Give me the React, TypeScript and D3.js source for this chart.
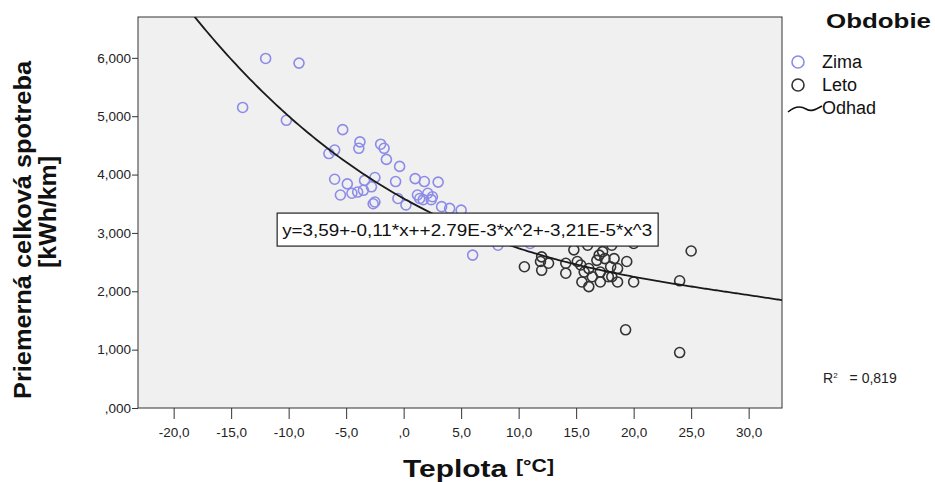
import React, { useRef, useEffect } from "react";
import * as d3 from "d3";

// Zima (winter) observations: temperature [°C] and consumption [kWh/km]
const zimaTemp = [
  -14.0, -12.0, -9.1, -10.2, -5.3, -6.5, -6.0, -3.8, -3.9, -2.0, -1.7, -1.5, -0.35,
  -6.0, -4.9, -3.4, -2.5, -2.8, -3.5, -4.0, -4.5, -5.5, -0.7, 1.0, 1.8, 3.0,
  -2.5, -2.65, -0.5, 0.2, 1.4, 2.1, 2.5, 1.2, 2.4, 1.7, 3.3, 4.0, 5.0,
  -0.2, 3.0, 6.0, 8.2, 11.0,
];
const zimaSpotreba = [
  5.15, 5.99, 5.91, 4.93, 4.77, 4.36, 4.42, 4.56, 4.45, 4.52, 4.45, 4.26, 4.14,
  3.92, 3.84, 3.9, 3.95, 3.79, 3.73, 3.7, 3.68, 3.65, 3.88, 3.93, 3.88, 3.87,
  3.53, 3.5, 3.59, 3.48, 3.59, 3.68, 3.62, 3.65, 3.57, 3.57, 3.45, 3.42, 3.39,
  2.88, 2.88, 2.62, 2.79, 2.82,
];

// Leto (summer) observations
const letoTemp = [
  10.5, 12.0, 12.0, 12.6, 11.9, 14.1, 14.1, 14.8, 15.1, 16.0, 15.4, 15.5, 16.1,
  15.7, 16.1, 16.4, 17.0, 17.3, 17.5, 16.8, 17.1, 18.0, 18.3, 18.6, 17.8, 17.1,
  18.1, 19.4, 20.0, 20.0, 18.6, 21.0, 25.0, 24.0, 19.3, 24.0, 18.1,
];
const letoSpotreba = [
  2.42, 2.59, 2.36, 2.48, 2.51, 2.48, 2.31, 2.71, 2.51, 2.79, 2.45, 2.16, 2.08,
  2.33, 2.39, 2.25, 2.62, 2.68, 2.56, 2.53, 2.33, 2.42, 2.56, 2.39, 2.25, 2.16,
  2.79, 2.51, 2.82, 2.16, 2.16, 3.0, 2.69, 2.18, 1.34, 0.95, 2.25,
];

// cubic fit coefficients as printed in the chart
const fitCoef = [3.59, -0.11, 2.79e-3, -3.21e-5];
const fitLabel = "y=3,59+-0,11*x++2.79E-3*x^2+-3,21E-5*x^3";
const rSquared = "0,819";

const xTicks = [-20, -15, -10, -5, 0, 5, 10, 15, 20, 25, 30];
const xTickLabels = ["-20,0", "-15,0", "-10,0", "-5,0", ",0", "5,0", "10,0", "15,0", "20,0", "25,0", "30,0"];
const yTicks = [0, 1, 2, 3, 4, 5, 6];
const yTickLabels = [",000", "1,000", "2,000", "3,000", "4,000", "5,000", "6,000"];

const legendLabels = ["Zima", "Leto", "Odhad"];

const width = 935;
const height = 482;
const margin = { top: 17, right: 153, bottom: 74, left: 138 };
const font = "'Liberation Sans', Arial, sans-serif";
const zimaColor = "#8c8ce8";
const letoColor = "#333333";

const App = () => {
  const svgRef = useRef<SVGSVGElement | null>(null);

  useEffect(() => {
    const svg = d3.select(svgRef.current);
    svg.selectAll("*").remove();

    const x = d3
      .scaleLinear()
      .domain([-23.1, 32.9])
      .range([margin.left, width - margin.right]);
    const y = d3
      .scaleLinear()
      .domain([0, 6.7])
      .range([height - margin.bottom, margin.top]);

    const plotW = width - margin.right - margin.left;
    const plotH = height - margin.bottom - margin.top;

    svg
      .append("defs")
      .append("clipPath")
      .attr("id", "plotClip")
      .append("rect")
      .attr("x", margin.left)
      .attr("y", margin.top)
      .attr("width", plotW)
      .attr("height", plotH);

    // plot background
    svg
      .append("rect")
      .attr("x", margin.left)
      .attr("y", margin.top)
      .attr("width", plotW)
      .attr("height", plotH)
      .attr("fill", "#f0f0f0")
      .attr("stroke", "#333")
      .attr("stroke-width", 1);

    // X axis
    const xAxis = d3
      .axisBottom(x)
      .tickValues(xTicks)
      .tickSize(11)
      .tickPadding(8)
      .tickFormat((d, i) => xTickLabels[i]);
    const gx = svg
      .append("g")
      .attr("transform", `translate(0,${height - margin.bottom})`)
      .call(xAxis);
    gx.select(".domain").remove();
    gx.selectAll(".tick line").attr("stroke", "#333");
    gx.selectAll(".tick text")
      .attr("font-family", font)
      .attr("font-size", 13.5)
      .attr("fill", "#222");

    // Y axis
    const yAxis = d3
      .axisLeft(y)
      .tickValues(yTicks)
      .tickSize(6)
      .tickPadding(1)
      .tickFormat((d, i) => yTickLabels[i]);
    const gy = svg
      .append("g")
      .attr("transform", `translate(${margin.left},0)`)
      .call(yAxis);
    gy.select(".domain").remove();
    gy.selectAll(".tick line").attr("stroke", "#333");
    gy.selectAll(".tick text")
      .attr("font-family", font)
      .attr("font-size", 13.5)
      .attr("fill", "#222");

    const plot = svg.append("g").attr("clip-path", "url(#plotClip)");

    // points
    plot
      .selectAll(".zima")
      .data(zimaTemp.map((t, i) => [t, zimaSpotreba[i]]))
      .enter()
      .append("circle")
      .attr("class", "zima")
      .attr("cx", (d) => x(d[0]))
      .attr("cy", (d) => y(d[1]))
      .attr("r", 5)
      .attr("fill", "none")
      .attr("stroke", zimaColor)
      .attr("stroke-width", 1.6);

    plot
      .selectAll(".leto")
      .data(letoTemp.map((t, i) => [t, letoSpotreba[i]]))
      .enter()
      .append("circle")
      .attr("class", "leto")
      .attr("cx", (d) => x(d[0]))
      .attr("cy", (d) => y(d[1]))
      .attr("r", 5)
      .attr("fill", "none")
      .attr("stroke", letoColor)
      .attr("stroke-width", 1.6);

    // fit curve
    const fit = (t: number) =>
      fitCoef[0] + fitCoef[1] * t + fitCoef[2] * t * t + fitCoef[3] * t * t * t;
    const curveT = d3.range(-23.1, 32.95, 0.25);
    const line = d3
      .line<number>()
      .x((t) => x(t))
      .y((t) => y(fit(t)))
      .curve(d3.curveBasis);
    plot
      .append("path")
      .datum(curveT)
      .attr("d", line)
      .attr("fill", "none")
      .attr("stroke", "#1a1a1a")
      .attr("stroke-width", 1.8);

    // equation label box
    const eq = svg.append("g").attr("transform", `translate(${x(-11)},${y(3.34)})`);
    eq.append("rect")
      .attr("x", 0)
      .attr("y", 0)
      .attr("width", 381)
      .attr("height", 33)
      .attr("fill", "#fff")
      .attr("stroke", "#222")
      .attr("stroke-width", 1.2);
    eq.append("text")
      .attr("x", 5)
      .attr("y", 23)
      .attr("font-family", font)
      .attr("font-size", 16.5)
      .attr("textLength", 370)
      .attr("lengthAdjust", "spacingAndGlyphs")
      .attr("fill", "#111")
      .text(fitLabel);

    // R² label
    const r2 = svg.append("text")
      .attr("x", 823)
      .attr("y", 383)
      .attr("font-family", font)
      .attr("font-size", 14)
      .attr("fill", "#222");
    r2.append("tspan").text("R");
    r2.append("tspan").attr("dy", -5).attr("font-size", 8).text("2");
    r2.append("tspan").attr("dy", 5).attr("dx", 12).text("= " + rSquared);

    // axis titles
    svg
      .append("text")
      .attr("x", 403)
      .attr("y", 477)
      .attr("font-family", font)
      .attr("font-weight", "bold")
      .attr("font-size", 23)
      .attr("textLength", 104)
      .attr("lengthAdjust", "spacingAndGlyphs")
      .attr("fill", "#111")
      .text("Teplota");
    svg
      .append("text")
      .attr("x", 516)
      .attr("y", 472)
      .attr("font-family", font)
      .attr("font-weight", "bold")
      .attr("font-size", 19)
      .attr("textLength", 38)
      .attr("lengthAdjust", "spacingAndGlyphs")
      .attr("fill", "#111")
      .text("[°C]");

    svg
      .append("text")
      .attr("transform", `translate(31,230) rotate(-90)`)
      .attr("text-anchor", "middle")
      .attr("font-family", font)
      .attr("font-weight", "bold")
      .attr("font-size", 23)
      .attr("textLength", 338)
      .attr("lengthAdjust", "spacingAndGlyphs")
      .attr("fill", "#111")
      .text("Priemerná celková spotreba");
    svg
      .append("text")
      .attr("transform", `translate(56,212) rotate(-90)`)
      .attr("text-anchor", "middle")
      .attr("font-family", font)
      .attr("font-weight", "bold")
      .attr("font-size", 23)
      .attr("textLength", 112)
      .attr("lengthAdjust", "spacingAndGlyphs")
      .attr("fill", "#111")
      .text("[kWh/km]");

    // legend
    svg
      .append("text")
      .attr("x", 826)
      .attr("y", 28)
      .attr("font-family", font)
      .attr("font-weight", "bold")
      .attr("font-size", 21)
      .attr("textLength", 105)
      .attr("lengthAdjust", "spacingAndGlyphs")
      .attr("fill", "#111")
      .text("Obdobie");

    const lg = svg.append("g");
    legendLabels.forEach((label, i) => {
      const cy = 62 + i * 23;
      if (i < 2) {
        lg.append("circle")
          .attr("cx", 798)
          .attr("cy", cy)
          .attr("r", 6)
          .attr("fill", "none")
          .attr("stroke", i === 0 ? zimaColor : letoColor)
          .attr("stroke-width", 1.6);
      } else {
        lg.append("path")
          .attr("d", `M788,${cy + 4} C795,${cy - 2} 801,${cy - 2} 806,${cy + 1} S815,${cy + 2} 822,${cy - 2}`)
          .attr("fill", "none")
          .attr("stroke", "#111")
          .attr("stroke-width", 1.6);
      }
      lg.append("text")
        .attr("x", 822)
        .attr("y", cy + 6)
        .attr("font-family", font)
        .attr("font-size", 18)
        .attr("fill", "#111")
        .text(label);
    });
  }, []);

  return (
    <svg
      ref={svgRef}
      width={width}
      height={height}
      style={{ position: "absolute", left: 0, top: 0, background: "#fff" }}
    />
  );
};

export default App;
